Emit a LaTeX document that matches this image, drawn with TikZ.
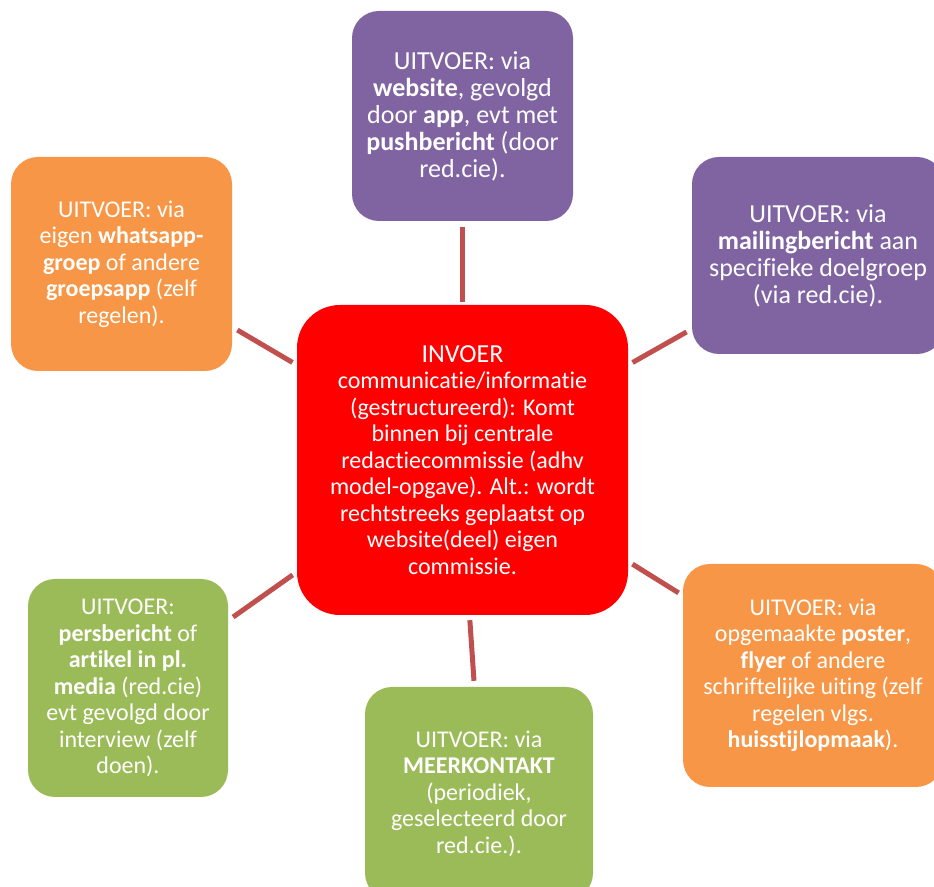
\documentclass[tikz,border=0pt]{standalone}
\usepackage{fontspec}
\setmainfont{Carlito}[Ligatures={NoCommon,NoRequired,NoContextual}]
\definecolor{cpurple}{HTML}{8064A2}
\definecolor{corange}{HTML}{F79646}
\definecolor{cgreen}{HTML}{9BBB59}
\definecolor{cred}{HTML}{FF0000}
\definecolor{cline}{HTML}{C0504D}
\tikzset{
  box/.style={rounded corners=27pt, inner sep=0pt, text=white, align=center,
    font=\fontsize{24}{26.5}\selectfont},
  bigtext/.style={font=\fontsize{26}{27}\selectfont},
  conn/.style={draw=cline, line width=5pt},
}
\begin{document}
\begin{tikzpicture}[x=1pt,y=1pt]
\useasboundingbox (0,0) rectangle (934,886);
\clip (0,0) rectangle (934,886);
\node[box, fill=cred, rounded corners=43pt, minimum width=331pt, minimum height=310pt] (c) at (462.5,426)
 {{\fontsize{26}{28}\selectfont INVOER}\\ communicatie/informatie\\ (gestructureerd): Komt\\ binnen bij centrale\\ redactiecommissie (adhv\\ model-opgave). Alt.: wordt\\ rechtstreeks geplaatst op\\ website(deel) eigen\\ commissie.};
\node[box, bigtext, fill=cpurple, minimum width=221pt, minimum height=210pt] (t) at (462.5,770)
 {UITVOER: via\\ \textbf{website}, gevolgd\\ door \textbf{app}, evt met\\ \textbf{pushbericht} (door\\ red.cie).};
\node[box, fill=corange, minimum width=221pt, minimum height=214pt] (tl) at (121.5,622)
 {UITVOER: via\\ eigen \textbf{whatsapp-}\\ \textbf{groep} of andere\\ \textbf{groepsapp} (zelf\\ regelen).};
\node[box, bigtext, fill=cpurple, minimum width=252pt, minimum height=197pt] (tr) at (818,630.5)
 {UITVOER: via\\ \textbf{mailingbericht} aan\\ specifieke doelgroep\\ (via red.cie).};
\node[box, fill=cgreen, minimum width=200pt, minimum height=218pt] (bl) at (128,198)
 {UITVOER:\\ \textbf{persbericht} of\\ \textbf{artikel in pl.}\\ \textbf{media} (red.cie)\\ evt gevolgd door\\ interview (zelf\\ doen).};
\node[box, fill=cgreen, minimum width=228pt, minimum height=213pt] (b) at (479,92.5)
 {UITVOER: via\\ \textbf{MEERKONTAKT}\\ (periodiek,\\ geselecteerd door\\ red.cie.).};
\node[box, fill=corange, minimum width=260pt, minimum height=223pt] (br) at (813,210.5)
 {UITVOER: via\\ opgemaakte \textbf{poster},\\ \textbf{flyer} of andere\\ schriftelijke uiting (zelf\\ regelen vlgs.\\ \textbf{huisstijlopmaak}).};
\draw[conn, shorten <=6pt, shorten >=3pt] (t.south) -- (c.north);
\draw[conn, shorten <=6pt, shorten >=5pt] ([yshift=-63pt]tl.east) -- ([yshift=95pt]c.west);
\draw[conn, shorten <=6pt, shorten >=5pt] ([yshift=-73.5pt]tr.west) -- ([yshift=95pt]c.east);
\draw[conn, shorten <=6pt, shorten >=5pt] ([yshift=67.5pt]bl.east) -- ([yshift=-112pt]c.west);
\draw[conn, shorten <=5pt, shorten >=5pt] ([yshift=80pt]br.west) -- ([yshift=-101.5pt]c.east);
\draw[conn, shorten <=5pt, shorten >=6pt] ([xshift=7pt]c.south) -- ([xshift=-4.6pt]b.north);
\end{tikzpicture}
\end{document}
